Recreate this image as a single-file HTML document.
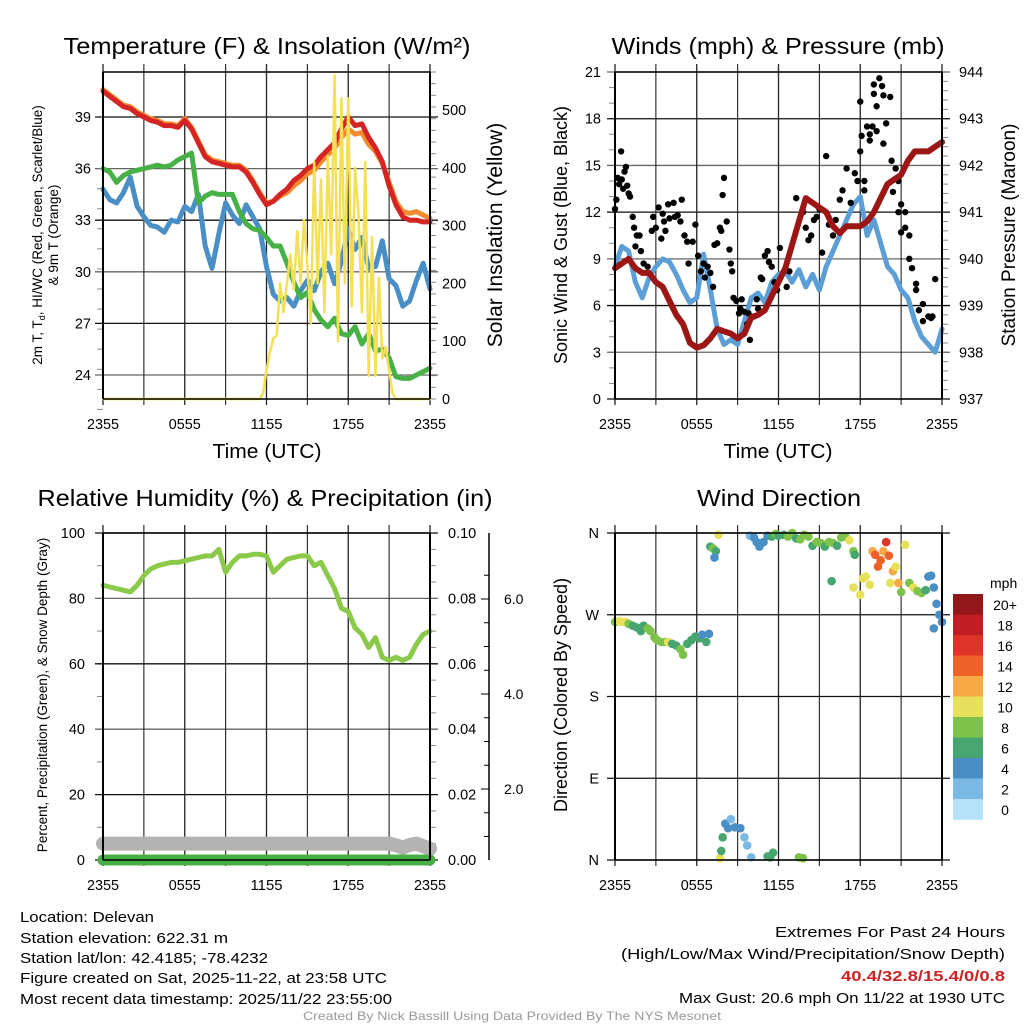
<!DOCTYPE html>
<html><head><meta charset="utf-8">
<style>
html,body{margin:0;padding:0;background:#fff;}
svg{display:block;font-family:"Liberation Sans",sans-serif;}
</style></head>
<body>
<svg id="fig" width="1024" height="1024" viewBox="0 0 1024 1024" xmlns="http://www.w3.org/2000/svg">
<rect width="1024" height="1024" fill="#fff"/>
<g id="p1"></g>
<g id="p2"></g>
<g id="p3"></g>
<g id="p4"></g>
<g id="txt" font-size="15" fill="#000">
<text x="20" y="922" textLength="134" lengthAdjust="spacingAndGlyphs">Location: Delevan</text>
<text x="20" y="943" textLength="208" lengthAdjust="spacingAndGlyphs">Station elevation: 622.31 m</text>
<text x="20" y="963" textLength="248" lengthAdjust="spacingAndGlyphs">Station lat/lon: 42.4185; -78.4232</text>
<text x="20" y="983" textLength="367" lengthAdjust="spacingAndGlyphs">Figure created on Sat, 2025-11-22, at 23:58 UTC</text>
<text x="20" y="1004" textLength="372" lengthAdjust="spacingAndGlyphs">Most recent data timestamp: 2025/11/22 23:55:00</text>
<text x="1005" y="937" text-anchor="end" textLength="230" lengthAdjust="spacingAndGlyphs">Extremes For Past 24 Hours</text>
<text x="1005" y="959" text-anchor="end" textLength="384" lengthAdjust="spacingAndGlyphs">(High/Low/Max Wind/Precipitation/Snow Depth)</text>
<text x="1005" y="981" text-anchor="end" fill="#cc2222" font-weight="bold" textLength="164" lengthAdjust="spacingAndGlyphs">40.4/32.8/15.4/0/0.8</text>
<text x="1005" y="1003" text-anchor="end" textLength="326" lengthAdjust="spacingAndGlyphs">Max Gust: 20.6 mph On 11/22 at 1930 UTC</text>
<text x="512" y="1020" text-anchor="middle" fill="#999" font-size="12" textLength="418" lengthAdjust="spacingAndGlyphs">Created By Nick Bassill Using Data Provided By The NYS Mesonet</text>
</g>
</svg>
<script>
// ---------- data ----------
const xTickLabels = ["2355","0555","1155","1755","2355"];
const tempRed = [40.5,40.2,39.9,39.6,39.5,39.2,39.0,38.8,38.7,38.5,38.5,38.4,38.8,38.3,37.5,36.7,36.4,36.3,36.2,36.1,36.1,35.8,35.2,34.5,33.9,34.1,34.5,34.8,35.3,35.6,36.0,36.2,36.7,37.1,37.5,38.3,39.0,38.5,38.6,37.8,37.2,36.4,35.0,33.9,33.2,33.0,33.0,32.9,32.9];
const tempOrange = [40.6,40.3,40.0,39.7,39.6,39.3,39.1,38.9,38.8,38.6,38.6,38.5,38.9,38.4,37.6,36.8,36.5,36.4,36.3,36.2,36.2,35.9,35.3,34.6,34.0,34.1,34.4,34.6,35.0,35.3,35.7,35.9,36.4,36.8,37.2,37.8,38.3,38.0,38.1,37.4,37.0,36.3,35.2,34.1,33.5,33.4,33.5,33.3,33.1];
const dewGreen = [36.0,35.8,35.2,35.6,35.8,35.9,36.0,36.1,36.2,36.1,36.2,36.5,36.7,36.9,34.0,34.4,34.6,34.5,34.5,34.5,33.5,32.8,32.5,32.4,32.0,31.5,31.5,30.5,29.4,28.5,28.8,27.8,27.2,26.8,27.3,26.4,26.3,26.8,25.8,26.4,25.4,25.5,25.0,23.9,23.8,23.8,24.0,24.2,24.4];
const chillBlue = [34.8,34.2,34.0,34.6,35.5,33.8,33.2,32.7,32.6,32.3,33.0,32.9,33.8,33.5,34.5,31.5,30.2,32.2,34.0,33.3,32.8,33.9,33.2,32.5,30.3,28.7,28.3,28.5,28.0,28.9,29.5,28.9,30.0,30.5,29.3,30.6,32.5,31.3,32.0,30.2,30.3,31.8,29.6,29.2,28.0,28.3,29.5,30.5,29.0];
const solarHours = [0,11.5,11.75,12,12.25,12.5,12.75,13,13.25,13.5,13.75,14,14.25,14.5,14.75,15,15.25,15.5,15.75,16,16.25,16.5,16.75,17,17.25,17.5,17.75,18,18.25,18.5,18.75,19,19.25,19.5,19.75,20,20.25,20.5,20.75,21,21.25,21.5,24];
const solarValues = [0,0,10,50,80,105,110,200,150,200,250,190,290,200,310,230,130,410,200,380,150,420,250,560,100,520,200,520,160,400,320,150,410,40,280,40,210,70,90,50,10,0,0];
const windBlue = [8.5,9.8,9.5,7.5,6.5,7.8,8.5,9.0,8.8,8.0,7.0,6.2,6.5,9.3,7.0,4.5,3.5,3.8,3.5,5.0,6.5,6.8,6.2,7.5,8.0,8.2,7.5,8.3,7.2,8.0,7.0,8.5,9.5,10.5,11.5,12.5,13.0,10.5,11.5,10.0,8.5,8.0,7.0,6.5,5.0,4.0,3.5,3.0,4.5];
const pressureMb = [939.8,939.9,940.0,939.8,939.7,939.7,939.5,939.4,939.1,938.8,938.6,938.2,938.1,938.15,938.3,938.5,938.45,938.4,938.3,938.4,938.75,938.8,938.9,939.2,939.5,939.8,940.3,940.8,941.3,941.2,941.1,941.0,940.7,940.55,940.7,940.7,940.7,940.8,941.0,941.3,941.6,941.7,941.8,942.1,942.3,942.3,942.3,942.4,942.5];
const gustHours = [0,0.1,0.2,0.3,0.45,0.5,0.6,0.7,0.8,0.9,1.0,1.1,1.3,1.4,1.5,1.6,1.8,1.9,2.1,2.4,2.7,2.8,3.0,3.2,3.4,3.5,3.6,3.7,3.9,4.0,4.3,4.4,4.6,4.8,4.9,5.1,5.3,5.4,5.7,5.9,6.1,6.3,6.5,6.6,6.8,7.0,7.2,7.3,7.5,7.7,7.8,7.9,8.0,8.2,8.4,8.5,8.6,8.7,8.9,9.1,9.2,9.3,9.5,9.7,9.8,9.9,10.2,10.4,10.5,10.7,10.8,11.0,11.2,11.3,11.5,11.7,11.9,12.1,12.4,12.6,12.8,13.3,13.8,14.0,14.2,14.4,14.6,14.8,15.0,15.2,15.5,15.7,16.0,16.2,16.5,16.7,17.0,17.3,17.6,17.8,18.0,18.0,18.1,18.3,18.3,18.5,18.7,18.7,18.9,19.0,19.0,19.2,19.2,19.4,19.6,19.7,19.7,19.9,20.2,20.3,20.4,20.6,20.8,20.8,21.0,21.0,21.3,21.3,21.6,21.6,21.8,22.1,22.1,22.3,22.6,22.6,23.0,23.2,23.3,23.5,23.7,24.0];
const gustValues = [12.2,12.8,14.2,13.8,15.9,14.1,13.5,14.6,14.9,13.7,13.2,13.0,11.7,11.0,9.8,10.5,10.5,9.5,8.7,8.5,10.8,11.7,11.0,12.3,10.3,11.9,11.4,10.8,12.5,11.6,12.6,11.7,11.8,11.4,12.8,10.5,10.1,8.7,10.1,11.2,9.2,8.2,8.7,7.8,8.5,8.1,7.2,9.9,10.0,11.0,10.8,13.1,14.2,11.4,9.6,8.7,8.2,6.5,6.3,5.5,5.8,6.4,5.6,4.8,5.5,3.8,5.3,6.4,5.8,7.8,7.7,9.2,9.5,8.8,8.5,7.5,7.0,9.7,8.2,7.2,8.2,12.9,12.0,11.0,10.2,10.5,11.5,11.7,12.2,9.4,15.6,11.2,10.5,11.5,12.8,13.4,14.8,12.6,14.5,14.0,19.1,15.9,16.9,13.4,14.0,17.5,16.6,17.0,17.5,20.2,19.6,18.8,17.2,20.6,20.1,19.5,16.4,17.7,19.4,15.3,13.3,14.8,12.0,14.0,10.7,12.5,11.0,12.0,10.5,9.0,8.4,7.4,7.0,5.7,6.1,5.0,5.3,5.2,5.3,7.7];
const rhGreen = [84,83.5,83,82.5,82,84,87,89,90,90.5,91,91,91.5,92,92.5,93,93,95,88,91,93,93,93.5,93.5,93,88,90,92,92.5,93,93,90,91,87,83,77,76,71,69,65,68,62,61,62,61,62,66,69,70];
const snowDepthPct = [5,5,5,5,5,5,5,5,5,5,5,5,5,5,5,5,5,5,5,5,5,5,5,5,5,5,5,5,5,5,5,5,5,5,5,5,5,5,5,5,5,5,5,4.5,3.8,4.6,5,4.2,3.5];
const precipIn = [0,0,0,0,0,0,0,0,0,0,0,0,0,0,0,0,0,0,0,0,0,0,0,0,0,0,0,0,0,0,0,0,0,0,0,0,0,0,0,0,0,0,0,0,0,0,0,0,0];
const dirHours = [0,0.3,0.5,0.8,1.0,1.3,1.6,1.9,2.1,2.4,2.6,2.9,3.1,3.4,3.7,3.9,4.2,4.5,4.8,5.0,5.3,5.6,5.9,6.2,6.4,6.7,6.9,7.0,7.2,7.4,7.3,7.6,7.7,7.8,7.9,8.1,8.3,8.5,8.8,9.2,9.5,9.7,10.0,11.2,11.4,11.6,13.5,13.8,9.9,10.2,10.4,10.6,10.9,11.2,11.5,11.8,12.0,12.4,12.7,13.0,13.3,13.6,13.9,14.2,14.5,14.8,15.1,15.4,15.7,16.0,16.3,16.6,16.9,17.2,17.5,17.6,15.9,17.5,18.0,18.2,18.4,18.7,18.9,19.1,19.3,19.5,19.7,19.9,20.1,20.2,20.4,20.6,20.8,21.0,21.3,21.6,21.9,22.2,22.5,22.8,23.0,23.2,23.4,23.6,23.8,24.0,23.4];
const dirDegrees = [262,263,262,262,260,258,256,252,258,255,252,245,242,240,240,240,238,236,232,226,238,242,246,244,248,240,249,345,343,340,333,358,2,10,25,40,35,45,36,35,25,16,3,4,3,8,3,2,357,355,350,345,350,357,356,359,357,358,356,360,354,353,358,356,346,350,349,345,350,349,346,355,356,352,340,336,307,300,292,310,312,303,340,336,323,330,340,350,335,305,318,323,305,295,347,305,300,296,294,297,312,313,300,282,270,262,255,262,291];
const dirSpeeds = [8,10,10,10,8,6,7,6,7,8,8,8,8,8,8,10,7,6,8,8,6,6,6,6,4,6,4,6,8,6,4,10,10,6,6,4,4,2,4,4,2,2,2,6,6,6,8,8,2,4,4,4,4,4,6,8,6,6,8,8,6,8,8,8,6,8,8,6,8,8,6,8,8,10,8,6,6,10,10,10,10,10,12,14,14,14,12,16,14,10,12,10,12,8,10,8,10,8,8,6,4,4,4,4,4,4,4,4,2];
const legendLabels = ["20+","18","16","14","12","10","8","6","4","2","0"];
const legendColors = ["#92171a","#c01d25","#de3328","#ee6128","#f7a945","#e6e05a","#7dc24b","#47a570","#4a8ec6","#7ab9e3","#b5e2f7"];

// ---------- helpers ----------
const NS = "http://www.w3.org/2000/svg";
function mk(parent, tag, attrs){
  const e = document.createElementNS(NS, tag);
  for (const k in attrs) e.setAttribute(k, attrs[k]);
  parent.appendChild(e);
  return e;
}
function txt(parent, s, attrs){
  const e = mk(parent, "text", attrs);
  e.textContent = s;
  return e;
}
function lin(d0,d1,r0,r1){ return v => r0 + (v-d0)/(d1-d0)*(r1-r0); }
function evenHours(n){ const a=[]; for(let i=0;i<n;i++) a.push(i*24/(n-1)); return a; }
function pathFrom(xs, ys, fx, fy){
  const n = Math.min(xs.length, ys.length);
  let d = "";
  for (let i=0;i<n;i++) d += (i?"L":"M")+fx(xs[i]).toFixed(1)+","+fy(ys[i]).toFixed(1);
  return d;
}
function frame(g, y, title, cx, w){
  const t = txt(g, title, {x:cx, y:y, "text-anchor":"middle","font-size":23, textLength:w, lengthAdjust:"spacingAndGlyphs"});
  
  
  return t;
}
function xTitle(g, cx){
  const t = txt(g,"Time (UTC)",{x:cx,y:458,"text-anchor":"middle","font-size":20, textLength:109, lengthAdjust:"spacingAndGlyphs"});
  
  
}
function xAxis(g, L, R, T, B){
  const fx = lin(0,24,L,R);
  for (let h=0; h<=24; h+=3){
    const l = mk(g,"line",{x1:fx(h),x2:fx(h),y1:T-8,y2:B+6,stroke:"#222","stroke-width":(h%6==0?1.3:1.1)});
    
    
  }
  xTickLabels.forEach((s,i)=>{
    const t = txt(g, s, {x:fx(i*6), y:B+30, "text-anchor":"middle","font-size":14.5, textLength:32, lengthAdjust:"spacingAndGlyphs"});
    
    
  });
  return fx;
}
function hGrid(g, L, R, y, gray){
  const l = mk(g,"line",{x1:L-8,x2:R+8,y1:y,y2:y,stroke:gray?"#666":"#111","stroke-width":1.3});
  
  
}
function tickLabel(g, s, x, y, anchor){
  const t = txt(g, s, {x:x, y:y+5, "text-anchor":anchor, "font-size":14.5});
  
  
}
function vTitle(g, s, x, y, size, name){
  const t = txt(g, s, {x:0,y:0,"text-anchor":"middle","font-size":size, transform:`translate(${x},${y}) rotate(-90)`});
  
  
  return t;
}
function minorTicks(g, x, y0, y1, n, dir){
  for (let i=0;i<=n;i++){
    const y = y0 + (y1-y0)*i/n;
    const l = mk(g,"line",{x1:x,x2:x+dir*6,y1:y,y2:y,stroke:"#888","stroke-width":1});
    
    
  }
}
function border(g,L,T,R,B){
  const l1 = mk(g,"line",{x1:L,x2:L,y1:T,y2:B,stroke:"#000","stroke-width":2});
  
  
  const l2 = mk(g,"line",{x1:R,x2:R,y1:T,y2:B,stroke:"#000","stroke-width":2});
  
  
  const l3 = mk(g,"line",{x1:L,x2:R,y1:B,y2:B,stroke:"#000","stroke-width":1.5});
  
  
  const l4 = mk(g,"line",{x1:L,x2:R,y1:T,y2:T,stroke:"#000","stroke-width":1.5});
  
  
}
function series(g, d, color, w, name){
  const p = mk(g,"path",{d:d,fill:"none",stroke:color,"stroke-width":w,"stroke-linejoin":"round","stroke-linecap":"round"});
  
  
  return p;
}

// ---------- panel 1 ----------
(function(){
  const g = document.getElementById("p1");
  const L=103,R=430,T=72,B=399;
  const fy = lin(24,39,375,117);
  const fs = lin(0,500,399,110);
  minorTicks(g, R, T, B, 28, 1);
  minorTicks(g, L, fy(24)+34.4, fy(24)-12*17.2, 12, -1);
  [24,27,30,33,36,39].forEach(v=>{ hGrid(g,L,R,fy(v),v%6==0); tickLabel(g,String(v),L-12,fy(v),"end"); });
  [0,100,200,300,400,500].forEach(v=>{ tickLabel(g,String(v),R+12,fs(v),"start"); });
  const fx = xAxis(g,L,R,T,B);
  const hrs = evenHours(tempRed.length);
  series(g, pathFrom(hrs, chillBlue, fx, fy), "#4a8ec6", 5, "windchill-line");
  series(g, pathFrom(hrs, dewGreen, fx, fy), "#47b047", 5, "dewpoint-line");
  series(g, pathFrom(hrs, tempOrange, fx, fy), "#f28a2e", 5, "temp-9m-line");
  series(g, pathFrom(hrs, tempRed, fx, fy), "#d42424", 5, "temp-2m-line");
  series(g, pathFrom(solarHours, solarValues.map(v=>Math.min(v,567)), fx, fs), "#f5e055", 2.5, "solar-line");
  border(g,L,T,R,B);
  frame(g,54,"Temperature (F) & Insolation (W/m\u00B2)",267,407);
  xTitle(g,267);
  const ta = txt(g,"",{x:0,y:0,"text-anchor":"middle","font-size":13.5,transform:"translate(42,235) rotate(-90)"});
  
  
  ta.innerHTML = '2m T, T<tspan font-size="9" dy="3">d</tspan><tspan dy="-3">, HI/WC (Red, Green, Scarlet/Blue)</tspan>';
  vTitle(g,"& 9m T (Orange)",58,235,13.5,"left-axis-title-2");
  vTitle(g,"Solar Insolation (Yellow)",502,235,21,"right-axis-title");
})();

// ---------- panel 2 ----------
(function(){
  const g = document.getElementById("p2");
  const L=615,R=942,T=72,B=399;
  const fy = lin(0,21,399,72);
  const fp = lin(937,944,399,72);
  minorTicks(g, R, T, B, 35, 1);
  minorTicks(g, L, B, T, 21, -1);
  [0,3,6,9,12,15,18,21].forEach(v=>{ hGrid(g,L,R,fy(v),v%6==3); tickLabel(g,String(v),L-14,fy(v),"end"); });
  [937,938,939,940,941,942,943,944].forEach(v=>{ tickLabel(g,String(v),R+17,fp(v),"start"); });
  const fx = xAxis(g,L,R,T,B);
  const hrs = evenHours(windBlue.length);
  series(g, pathFrom(hrs, windBlue, fx, fy), "#5b9fd6", 5, "sonic-wind-line");
  const ng = Math.min(gustHours.length, gustValues.length);
  for (let i=0;i<ng;i++){
    const c = mk(g,"circle",{cx:fx(gustHours[i]),cy:fy(gustValues[i]),r:3.2,fill:"#000"});
    
    
  }
  series(g, pathFrom(hrs, pressureMb, fx, fp), "#9c1616", 6, "pressure-line");
  border(g,L,T,R,B);
  frame(g,54,"Winds (mph) & Pressure (mb)",778,333);
  xTitle(g,778);
  vTitle(g,"Sonic Wind & Gust (Blue, Black)",567,235,18,"left-axis-title");
  vTitle(g,"Station Pressure (Maroon)",1015,235,19,"right-axis-title");
})();

// ---------- panel 3 ----------
(function(){
  const g = document.getElementById("p3");
  const L=103,R=430,T=533,B=860;
  const fy = lin(0,100,860,533);
  const fpr = lin(0,0.1,860,533);
  const fsd = lin(2,6,789,599);
  minorTicks(g, R, T, B, 20, 1);
  minorTicks(g, L, B, T, 10, -1);
  [0,20,40,60,80,100].forEach(v=>{ hGrid(g,L,R,fy(v),v%40==0 && v>0); tickLabel(g,String(v),L-18,fy(v),"end"); });
  [0,0.02,0.04,0.06,0.08,0.10].forEach(v=>{ tickLabel(g,v.toFixed(2),R+18,fpr(v),"start"); });
  const sa = mk(g,"line",{x1:489,x2:489,y1:533,y2:860,stroke:"#000","stroke-width":1.5});
  
  
  for (let v=0.5; v<=6.9; v+=0.5){
    const y = fsd(v);
    if (y<533||y>860) continue;
    const l = mk(g,"line",{x1:489,x2:489-(v%2==0?8:5),y1:y,y2:y,stroke:"#000","stroke-width":1});
    
    
  }
  ["2.0","4.0","6.0"].forEach(s=>{
    const t = txt(g,s,{x:504,y:fsd(parseFloat(s))+5,"font-size":14});
    
    
  });
  const fx = xAxis(g,L,R,T,B);
  const hrs = evenHours(rhGreen.length);
  series(g, pathFrom(evenHours(snowDepthPct.length), snowDepthPct, fx, fy), "#b3b3b3", 14, "snow-depth-line");
  series(g, pathFrom(evenHours(precipIn.length), precipIn, fx, fpr), "#46b046", 11, "precipitation-line");
  series(g, pathFrom(hrs, rhGreen, fx, fy), "#8bc94a", 5, "humidity-line");
  border(g,L,T,R,B);
  frame(g,506,"Relative Humidity (%) & Precipitation (in)",265,455);
  vTitle(g,"Percent, Precipitation (Green), & Snow Depth (Gray)",47,695,13.5,"left-axis-title");
})();

// ---------- panel 4 ----------
(function(){
  const g = document.getElementById("p4");
  const L=615,R=942,T=533,B=860;
  const fy = lin(0,360,860,533);
  [["N",360],["W",270],["S",180],["E",90],["N",0]].forEach(([s,v])=>{ hGrid(g,L,R,fy(v),false); tickLabel(g,s,L-16,fy(v),"end"); });
  const fx = xAxis(g,L,R,T,B);
  function colorFor(sp){ const idx = Math.min(10, Math.max(0, Math.floor(sp/2))); return legendColors[10-idx]; }
  const nd = Math.min(dirHours.length, dirDegrees.length, dirSpeeds.length);
  for (let i=0;i<nd;i++){
    const c = mk(g,"circle",{cx:fx(dirHours[i]),cy:fy(dirDegrees[i]),r:4.3,fill:colorFor(dirSpeeds[i])});
    
    
  }
  border(g,L,T,R,B);
  frame(g,506,"Wind Direction",779,164);
  vTitle(g,"Direction (Colored By Speed)",567,695,18,"left-axis-title");
  const mph = txt(g,"mph",{x:990,y:588,"font-size":14});
  
  
  legendLabels.forEach((s,i)=>{
    const y = 594 + i*20.5;
    const r = mk(g,"rect",{x:953,y:y,width:30,height:20.8,fill:legendColors[i]});
    
    
    const t = txt(g,s,{x:1005,y:y+16,"text-anchor":"middle","font-size":14});
    
    
  });
})();
</script>
</body></html>
